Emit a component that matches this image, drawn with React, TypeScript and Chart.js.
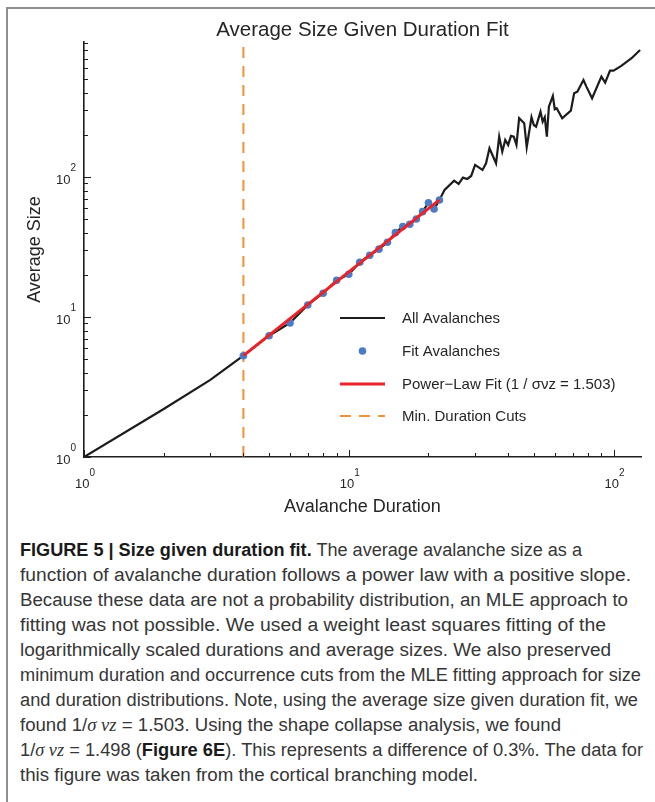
import React, { useEffect, useLayoutEffect, useRef } from "react";
import { Chart, registerables } from "chart.js";

Chart.register(...registerables);

// ---------- data ----------
const allDur = [
  1, 2, 3, 4, 5, 6, 7, 8, 9, 10, 11, 12, 13, 14, 15, 16, 17, 18, 19, 20, 21, 22,
  23, 25, 26, 27, 28, 29, 30, 32, 33, 34, 36, 37, 38, 39, 40, 41, 42, 43, 44, 46,
  47, 49, 50, 51, 53, 54, 55, 56, 57, 59, 60, 61, 64, 69, 71, 73, 77, 79, 83, 90,
  93, 97, 100, 107, 117, 126,
];
const allSize = [
  1, 2.2, 3.55, 5.29, 7.35, 9.06, 12.18, 14.77, 18.29, 20.18, 24.6, 27.6, 30.5,
  34.2, 40.0, 44.2, 45.9, 50.1, 56.5, 65.5, 59.0, 68.5,
  80.7, 94.1, 89.1, 98.9, 96.8, 101.6, 121.8, 112.2, 125.2, 160.3, 125.2, 194,
  151.6, 183.8, 169.3, 196.3, 194, 169.3, 262.6, 241.9, 163, 267, 235, 228.6,
  292.6, 248.3, 267, 194, 317.9, 379, 304.5, 309.6, 262.6, 297.6, 396, 406.6,
  493, 441.7, 364.8, 520.5, 471.7, 574.6, 574.6, 620.6, 704.3, 807.6,
];
const fitDur = [4, 5, 6, 7, 8, 9, 10, 11, 12, 13, 14, 15, 16, 17, 18, 19, 20, 21, 22];
const fitSize = [
  5.29, 7.35, 9.06, 12.18, 14.77, 18.29, 20.18, 24.6, 27.6, 30.5, 34.2, 40.0,
  44.2, 45.9, 50.1, 56.5, 65.5, 59.0, 68.5,
];
const fitLineDur = [4, 22];
const fitLineSize = [5.3, 68.6];
const minDurationCut = 4;

const xLimits = [1, 127];
const yLimits = [1, 920];
const decadeExps = [0, 1, 2];

const chartTitle = "Average Size Given Duration Fit";
const xAxisTitle = "Avalanche Duration";
const yAxisTitle = "Average Size";
const legendLabels = [
  "All Avalanches",
  "Fit Avalanches",
  "Power\u2212Law Fit (1 / \u03c3\u03bdz = 1.503)",
  "Min. Duration Cuts",
];

// ---------- styles ----------
const FONT = '"Liberation Sans", Arial, Helvetica, sans-serif';
const TEXT = "#262626";
const AXIS = "#1e1e1e";
const C_ALL = "#1c1c1c";
const C_FIT = "#4a7bc6";
const C_LINE = "#ec2227";
const C_CUT = "#f2913a";

const pairs = (xs: number[], ys: number[]) => xs.map((x, i) => ({ x, y: ys[i] }));

const decorPlugin = {
  id: "decor",
  afterDatasetsDraw(chart: any) {
    const { ctx, chartArea: ca } = chart;
    const xs = chart.scales.x;
    const ys = chart.scales.y;
    ctx.save();

    // inward ticks
    ctx.strokeStyle = AXIS;
    ctx.lineWidth = 1;
    for (let e = 0; e <= 3; e++) {
      for (let m = 1; m <= 9; m++) {
        const v = m * Math.pow(10, e);
        const len = m === 1 ? 7 : 4;
        if (v >= xLimits[0] && v <= xLimits[1]) {
          const px = Math.round(xs.getPixelForValue(v)) + 0.5;
          ctx.beginPath();
          ctx.moveTo(px, ca.bottom);
          ctx.lineTo(px, ca.bottom - len);
          ctx.stroke();
        }
        if (v >= yLimits[0] && v <= yLimits[1]) {
          const py = Math.round(ys.getPixelForValue(v)) + 0.5;
          ctx.beginPath();
          ctx.moveTo(ca.left, py);
          ctx.lineTo(ca.left + len, py);
          ctx.stroke();
        }
      }
    }

    // tick labels 10^e
    ctx.fillStyle = TEXT;
    ctx.textAlign = "left";
    ctx.textBaseline = "alphabetic";
    const baseFont = `13px ${FONT}`;
    const supFont = `10px ${FONT}`;
    for (const e of decadeExps) {
      const v = Math.pow(10, e);
      ctx.font = baseFont;
      const wb = ctx.measureText("10").width;
      ctx.font = supFont;
      const we = ctx.measureText(String(e)).width;
      if (v >= xLimits[0] && v <= xLimits[1]) {
        const px = xs.getPixelForValue(v);
        const x0 = px - (wb + we) / 2 + 1;
        ctx.font = baseFont;
        ctx.fillText("10", x0, ca.bottom + 31);
        ctx.font = supFont;
        ctx.fillText(String(e), x0 + wb, ca.bottom + 19);
      }
      if (v >= yLimits[0] && v <= yLimits[1]) {
        const py = ys.getPixelForValue(v);
        const x0 = ca.left - 8 - (wb + we);
        ctx.font = baseFont;
        ctx.fillText("10", x0, py + 7);
        ctx.font = supFont;
        ctx.fillText(String(e), x0 + wb, py - 6);
      }
    }

    // titles
    ctx.textAlign = "center";
    ctx.textBaseline = "middle";
    ctx.font = `20.5px ${FONT}`;
    ctx.fillText(chartTitle, (ca.left + ca.right) / 2, 30);
    ctx.font = `18px ${FONT}`;
    ctx.fillText(xAxisTitle, (ca.left + ca.right) / 2, 507);
    ctx.save();
    ctx.translate(35, (ca.top + ca.bottom) / 2);
    ctx.rotate(-Math.PI / 2);
    ctx.fillText(yAxisTitle, 0, 0);
    ctx.restore();

    // legend
    const ds = chart.data.datasets;
    const legendOrder = [0, 1, 2, 3];
    const rowY = [318, 351, 384, 416];
    const sx0 = 340;
    const sx1 = 385;
    const tx = 402;
    ctx.textAlign = "left";
    ctx.textBaseline = "middle";
    ctx.font = `15px ${FONT}`;
    legendOrder.forEach((di, i) => {
      const d = ds[di];
      const y = rowY[i];
      if (d.showLine === false) {
        ctx.fillStyle = d.backgroundColor;
        ctx.beginPath();
        ctx.arc((sx0 + sx1) / 2, y, d.pointRadius, 0, Math.PI * 2);
        ctx.fill();
      } else {
        ctx.strokeStyle = d.borderColor;
        ctx.lineWidth = d.borderWidth;
        ctx.setLineDash(d.borderDash || []);
        ctx.beginPath();
        ctx.moveTo(sx0, y);
        ctx.lineTo(sx1, y);
        ctx.stroke();
        ctx.setLineDash([]);
      }
      ctx.fillStyle = TEXT;
      ctx.fillText(legendLabels[i], tx, y + 1);
    });

    ctx.restore();
  },
};

function FigureChart() {
  const ref = useRef<HTMLCanvasElement | null>(null);
  useEffect(() => {
    if (!ref.current) return;
    const chart = new Chart(ref.current, {
      type: "scatter",
      data: {
        datasets: [
          {
            label: legendLabels[0],
            data: pairs(allDur, allSize),
            showLine: true,
            borderColor: C_ALL,
            backgroundColor: C_ALL,
            borderWidth: 2.2,
            pointRadius: 0,
            order: 3,
          } as any,
          {
            label: legendLabels[1],
            data: pairs(fitDur, fitSize),
            showLine: false,
            backgroundColor: C_FIT,
            borderColor: C_FIT,
            borderWidth: 0,
            pointRadius: 3.8,
            order: 1,
          },
          {
            label: legendLabels[2],
            data: pairs(fitLineDur, fitLineSize),
            showLine: true,
            borderColor: C_LINE,
            backgroundColor: C_LINE,
            borderWidth: 3,
            pointRadius: 0,
            order: 0,
          },
          {
            label: legendLabels[3],
            data: [
              { x: minDurationCut, y: yLimits[0] },
              { x: minDurationCut, y: yLimits[1] },
            ],
            showLine: true,
            borderColor: C_CUT,
            backgroundColor: C_CUT,
            borderWidth: 2,
            borderDash: [11, 8],
            pointRadius: 0,
            order: 2,
          },
        ],
      },
      options: {
        animation: false,
        responsive: false,
        maintainAspectRatio: false,
        layout: { padding: { left: 84, right: 14, top: 42, bottom: 73 } },
        plugins: {
          legend: { display: false },
          title: { display: false },
          tooltip: { enabled: false },
        },
        scales: {
          x: {
            type: "logarithmic",
            min: xLimits[0],
            max: xLimits[1],
            ticks: { display: false },
            grid: { display: false },
            border: { display: true, color: AXIS, width: 1.6 },
            afterFit: (s: any) => {
              s.height = 0;
            },
          },
          y: {
            type: "logarithmic",
            min: yLimits[0],
            max: yLimits[1],
            ticks: { display: false },
            grid: { display: false },
            border: { display: true, color: AXIS, width: 1.6 },
            afterFit: (s: any) => {
              s.width = 0;
            },
          },
        },
      },
      plugins: [decorPlugin],
    });
    return () => chart.destroy();
  }, []);
  return (
    <canvas
      ref={ref}
      width={655}
      height={530}
      style={{ position: "absolute", left: 0, top: 0, width: 655, height: 530 }}
    />
  );
}

const mathI: React.CSSProperties = {
  fontFamily: '"Liberation Serif", "DejaVu Serif", serif',
  fontStyle: "italic",
};

const captionLines: React.ReactNode[] = [
  <>
    <b style={{ color: "#1a1a1a" }}>FIGURE 5 | Size given duration fit.</b> The average avalanche size as a
  </>,
  <>function of avalanche duration follows a power law with a positive slope.</>,
  <>Because these data are not a probability distribution, an MLE approach to</>,
  <>fitting was not possible. We used a weight least squares fitting of the</>,
  <>logarithmically scaled durations and average sizes. We also preserved</>,
  <>minimum duration and occurrence cuts from the MLE fitting approach for size</>,
  <>and duration distributions. Note, using the average size given duration fit, we</>,
  <>
    found 1/<span style={mathI}>σ νz</span> = 1.503. Using the shape collapse analysis, we found
  </>,
  <>
    1/<span style={mathI}>σ νz</span> = 1.498 (<b style={{ color: "#1a1a1a" }}>Figure 6E</b>). This represents a difference of 0.3%. The data for
  </>,
  <>this figure was taken from the cortical branching model.</>,
];
// right edge of each caption line in the reference (px)
const captionLineEnds = [582, 631, 628, 606, 611, 641, 638, 561, 643, 478];
const CAPTION_LEFT = 20;

function CaptionLine({ children, index }: { children: React.ReactNode; index: number }) {
  const ref = useRef<HTMLSpanElement | null>(null);
  useLayoutEffect(() => {
    const el = ref.current;
    if (!el) return;
    el.style.transform = "none";
    const w = el.getBoundingClientRect().width;
    const target = captionLineEnds[index] - CAPTION_LEFT;
    if (w > 0) el.style.transform = `scaleX(${target / w})`;
  }, [index]);
  return (
    <div
      style={{
        position: "absolute",
        left: CAPTION_LEFT,
        top: 550 + 25 * index - 12.5,
        height: 25,
        lineHeight: "25px",
        whiteSpace: "nowrap",
        fontFamily: FONT,
        fontSize: 18,
        color: "#363636",
      }}
    >
      <span ref={ref} style={{ display: "inline-block", transformOrigin: "0 50%" }}>
        {children}
      </span>
    </div>
  );
}

export default function App() {
  return (
    <div
      style={{
        position: "absolute",
        left: 0,
        top: 0,
        width: 655,
        height: 802,
        background: "#ffffff",
        overflow: "hidden",
      }}
    >
      <div
        style={{
          position: "absolute",
          left: 6,
          top: 7,
          width: 720,
          height: 900,
          borderLeft: "2px solid #8f8f8f",
          borderTop: "2px solid #8f8f8f",
        }}
      />
      <FigureChart />
      {captionLines.map((ln, i) => (
        <CaptionLine key={i} index={i}>
          {ln}
        </CaptionLine>
      ))}
    </div>
  );
}
